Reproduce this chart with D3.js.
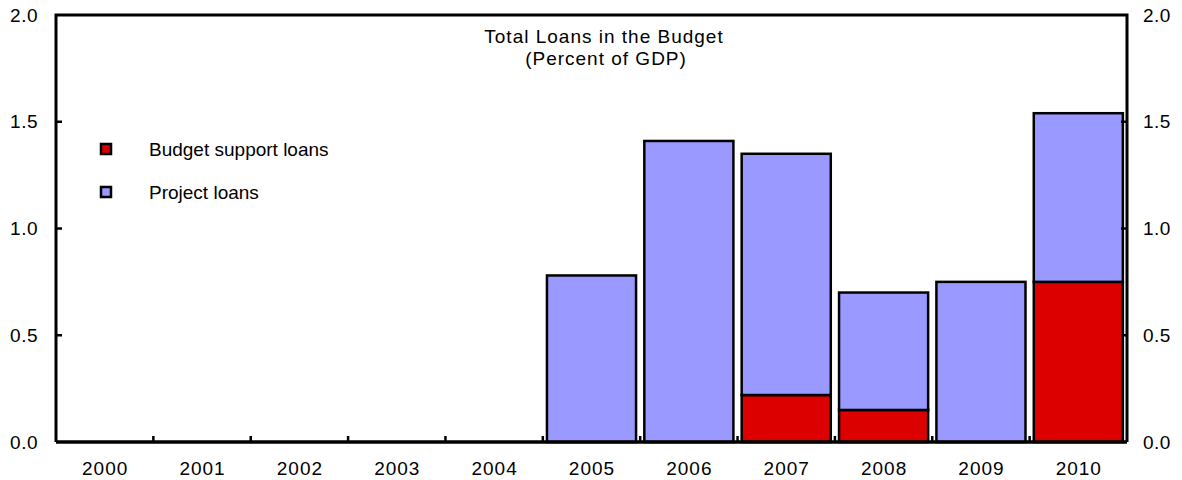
<!DOCTYPE html>
<html>
<head>
<meta charset="utf-8">
<script src="https://cdn.jsdelivr.net/npm/d3@7"></script>
<style>
  html, body { margin: 0; padding: 0; background: #fff; }
  svg text { font-family: "Liberation Sans", Arial, sans-serif; fill: #000; }
</style>
</head>
<body>
<svg id="chart" width="1182" height="480"></svg>
<script>
// Fiscal years shown on the category axis
const years = ["2000", "2001", "2002", "2003", "2004", "2005", "2006", "2007", "2008", "2009", "2010"];
// Budget support loans, percent of GDP
const budgetSupport = [0, 0, 0, 0, 0, 0, 0, 0.22, 0.15, 0, 0.75];
// Project loans, percent of GDP
const projectLoans = [0, 0, 0, 0, 0, 0.78, 1.41, 1.13, 0.55, 0.75, 0.79];
// Value-axis tick labels
const yTicks = [0, 0.5, 1.0, 1.5, 2.0];
const seriesNames = ["Budget support loans", "Project loans"];
const seriesColors = ["#DD0000", "#9999FF"];

(function () {
  const svg = d3.select("#chart");
  const plotLeft = 56, plotRight = 1127, plotTop = 15, plotBottom = 442;
  const fontSize = 19;

  const x = d3.scaleBand().domain(years).range([plotLeft, plotRight]).paddingInner(0.085).paddingOuter(0.0425);
  const xEdges = d3.scaleBand().domain(years).range([plotLeft, plotRight]).padding(0);
  const y = d3.scaleLinear().domain([0, 2]).range([plotBottom, plotTop]);

  // Stacked series
  const rows = years.map((yr, i) => ({ year: yr, budget: budgetSupport[i], project: projectLoans[i] }));
  const layers = d3.stack().keys(["budget", "project"])(rows);

  const g = svg.append("g");
  layers.forEach((layer, li) => {
    g.selectAll(null)
      .data(layer.filter(d => d[1] - d[0] > 0))
      .enter()
      .append("rect")
      .attr("x", d => x(d.data.year))
      .attr("width", x.bandwidth())
      .attr("y", d => y(d[1]))
      .attr("height", d => y(d[0]) - y(d[1]))
      .attr("fill", seriesColors[li])
      .attr("stroke", "#000")
      .attr("stroke-width", 2.5);
  });

  // Frame: left, top, right, bottom
  const frame = svg.append("g").attr("stroke", "#000").attr("stroke-width", 3).attr("fill", "none");
  frame.append("path").attr("d", `M${plotLeft},${plotBottom} V${plotTop} H${plotRight} V${plotBottom}`);
  frame.append("line").attr("x1", plotLeft).attr("x2", plotRight)
    .attr("y1", plotBottom).attr("y2", plotBottom).attr("stroke-width", 3.5);

  // Inward ticks on value axes
  const tickG = svg.append("g").attr("stroke", "#000").attr("stroke-width", 2.5);
  yTicks.filter(v => v > 0 && v < 2).forEach(v => {
    tickG.append("line").attr("x1", plotLeft).attr("x2", plotLeft + 6).attr("y1", y(v)).attr("y2", y(v));
    tickG.append("line").attr("x1", plotRight).attr("x2", plotRight - 6).attr("y1", y(v)).attr("y2", y(v));
  });
  // Category boundary ticks
  years.slice(1).forEach(yr => {
    const xb = xEdges(yr);
    tickG.append("line").attr("x1", xb).attr("x2", xb).attr("y1", plotBottom).attr("y2", plotBottom - 6);
  });

  // Value labels on both sides
  const fmt = d3.format(".1f");
  yTicks.forEach(v => {
    svg.append("text").attr("x", 38).attr("y", y(v)).attr("dy", "0.35em")
      .attr("text-anchor", "end").attr("font-size", fontSize).attr("letter-spacing", 0.5).text(fmt(v));
    svg.append("text").attr("x", 1143).attr("y", y(v)).attr("dy", "0.35em")
      .attr("text-anchor", "start").attr("font-size", fontSize).attr("letter-spacing", 0.5).text(fmt(v));
  });

  // Category labels
  years.forEach(yr => {
    svg.append("text").attr("x", xEdges(yr) + xEdges.bandwidth() / 2 + 0.5).attr("y", 468)
      .attr("dy", "0.35em").attr("text-anchor", "middle").attr("font-size", fontSize)
      .attr("letter-spacing", 1).text(yr);
  });

  // Title
  svg.append("text").attr("x", 604).attr("y", 36).attr("dy", "0.35em")
    .attr("text-anchor", "middle").attr("font-size", fontSize).attr("letter-spacing", 1)
    .text("Total Loans in the Budget");
  svg.append("text").attr("x", 606).attr("y", 58).attr("dy", "0.35em")
    .attr("text-anchor", "middle").attr("font-size", fontSize).attr("letter-spacing", 1)
    .text("(Percent of GDP)");

  // Legend
  seriesNames.forEach((name, i) => {
    const ly = 149 + i * 43;
    svg.append("rect").attr("x", 101).attr("y", ly - 5).attr("width", 10).attr("height", 10)
      .attr("fill", seriesColors[i]).attr("stroke", "#000").attr("stroke-width", 2.5);
    svg.append("text").attr("x", 149).attr("y", ly).attr("dy", "0.35em")
      .attr("font-size", fontSize).text(name);
  });
})();
</script>
</body>
</html>
